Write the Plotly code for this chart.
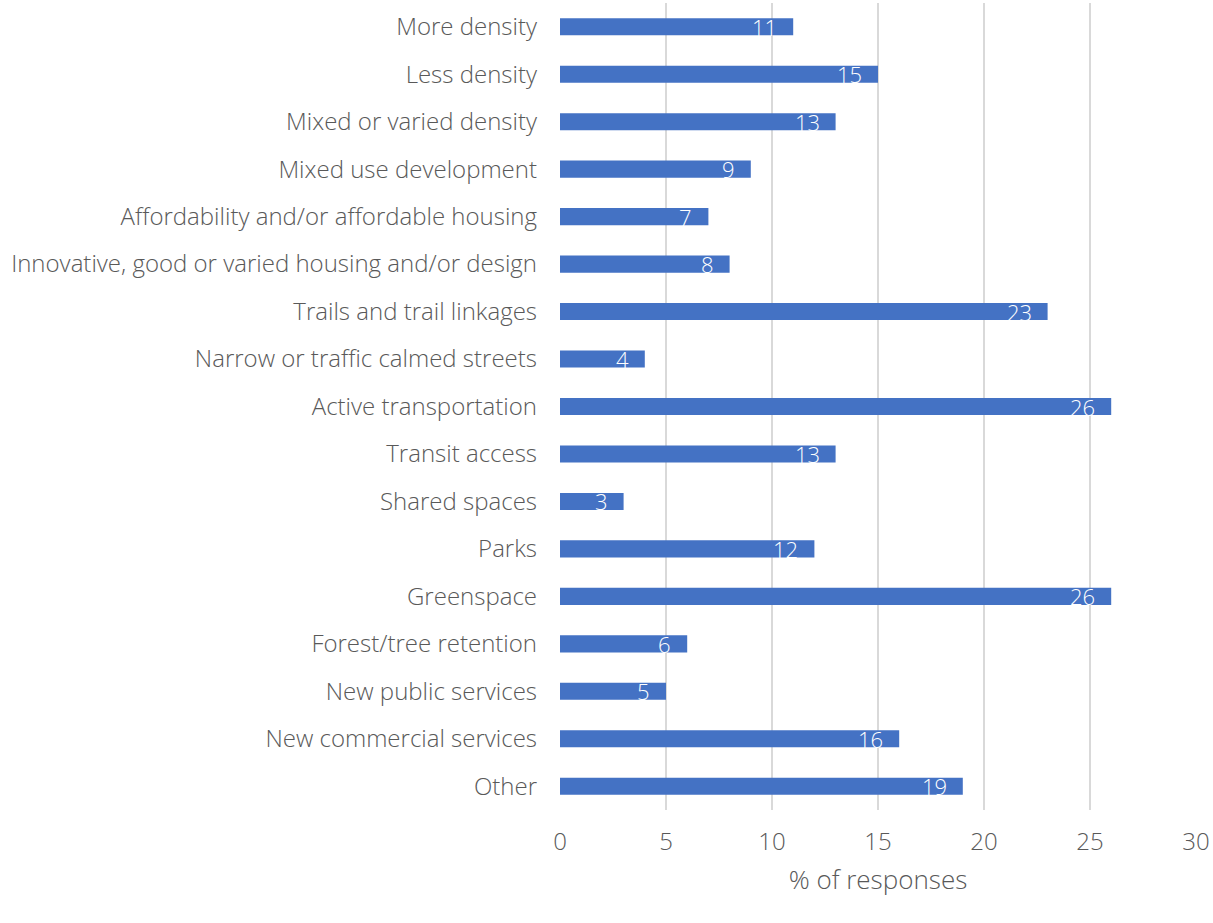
import plotly.graph_objects as go

categories = [
    "More density",
    "Less density",
    "Mixed or varied density",
    "Mixed use development",
    "Affordability and/or affordable housing",
    "Innovative, good or varied housing and/or design",
    "Trails and trail linkages",
    "Narrow or traffic calmed streets",
    "Active transportation",
    "Transit access",
    "Shared spaces",
    "Parks",
    "Greenspace",
    "Forest/tree retention",
    "New public services",
    "New commercial services",
    "Other",
]
values = [11, 15, 13, 9, 7, 8, 23, 4, 26, 13, 3, 12, 26, 6, 5, 16, 19]
x_ticks = [0, 5, 10, 15, 20, 25, 30]

FONT = "'Open Sans', Lato, sans-serif"
GREY = "#595959"

fig = go.Figure(
    go.Bar(
        x=values,
        y=categories,
        orientation="h",
        marker=dict(color="#4472C4", line=dict(width=0)),
        hoverinfo="x+y",
    )
)

# value labels sitting just inside the end of each bar
for cat, val in zip(categories, values):
    fig.add_annotation(
        x=val,
        y=cat,
        text=str(val),
        showarrow=False,
        xanchor="right",
        yanchor="middle",
        xshift=-14,
        font=dict(family=FONT, size=22, color="white", weight=300),
    )

fig.update_layout(
    width=1213,
    height=923,
    margin=dict(l=560, r=15, t=3, b=113),
    paper_bgcolor="white",
    plot_bgcolor="white",
    bargap=0.64,
    showlegend=False,
    font=dict(family=FONT, size=24, color=GREY, weight=300),
)

fig.update_xaxes(
    range=[0, 30],
    tickvals=x_ticks,
    showgrid=True,
    gridcolor="#d9d9d9",
    gridwidth=1.5,
    zeroline=False,
    showline=False,
    ticklabelstandoff=15,
    tickfont=dict(family=FONT, size=24, color=GREY, weight=300),
    title=dict(text="% of responses", font=dict(family=FONT, size=26, color=GREY, weight=300), standoff=14),
)
fig.update_yaxes(
    autorange="reversed",
    showgrid=False,
    showline=False,
    ticks="",
    ticklabelstandoff=22,
    tickfont=dict(family=FONT, size=24, color=GREY, weight=300),
)

fig.write_html("out.html")
